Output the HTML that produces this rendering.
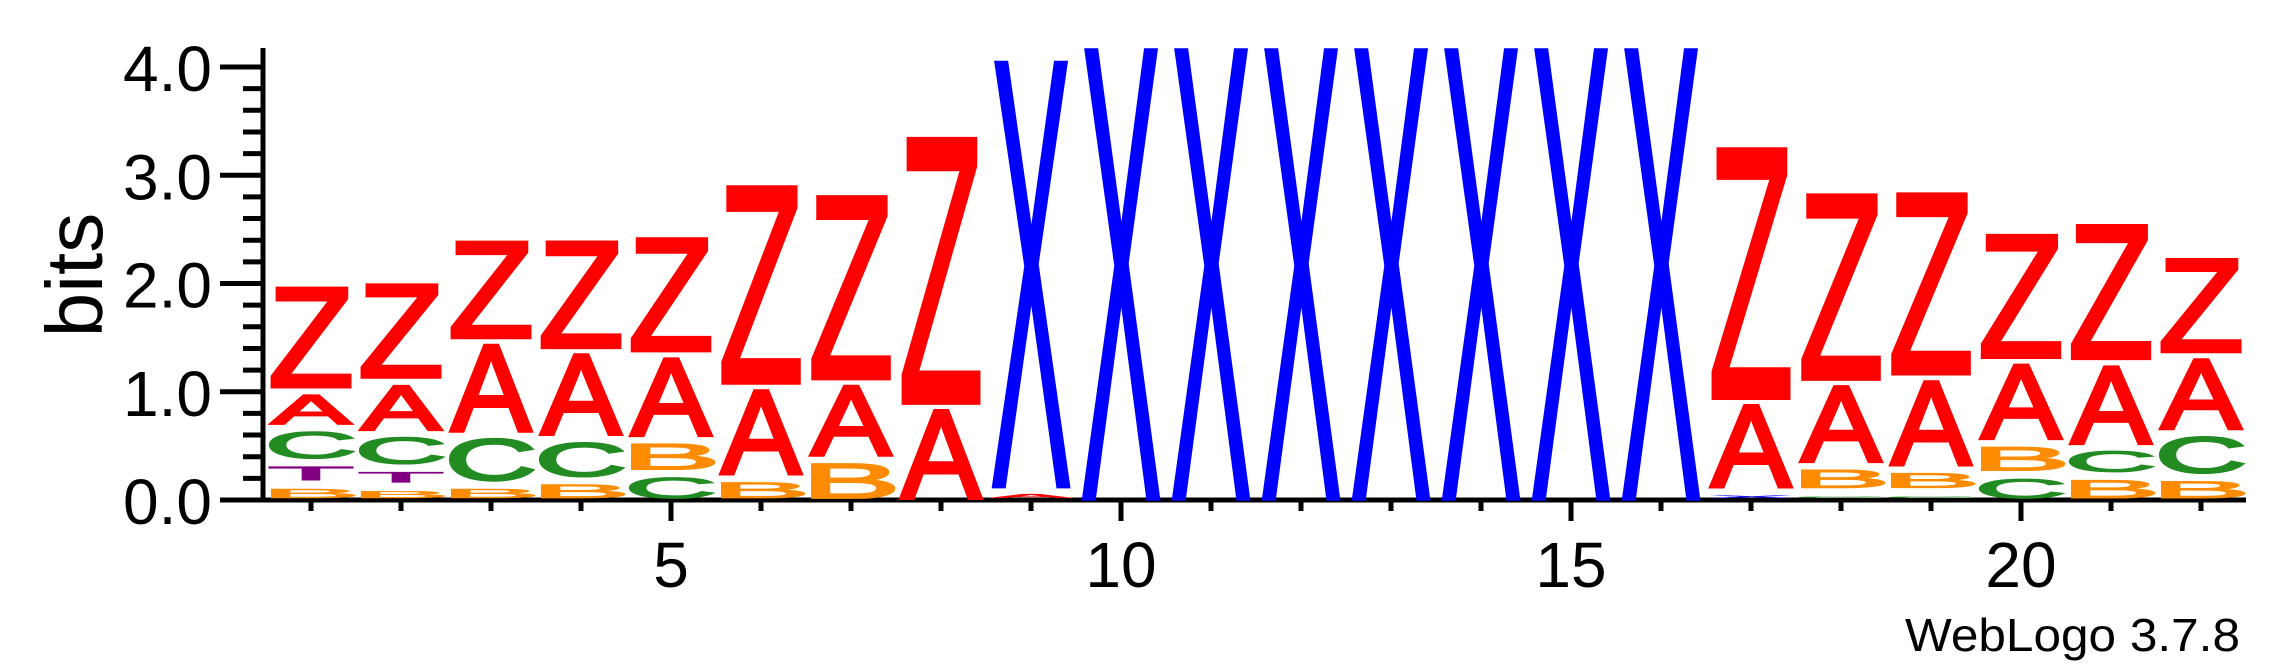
<!DOCTYPE html>
<html><head><meta charset="utf-8"><style>
html,body{margin:0;padding:0;background:#fff;}
svg{display:block;}
text{font-family:"Liberation Sans",Arial,sans-serif;}
</style></head><body>
<svg id="logo" width="2292" height="667" viewBox="0 0 2292 667" xmlns="http://www.w3.org/2000/svg">
<g id="axes"></g>
<g id="stacks"></g>
<text x="0" y="0" font-size="80" text-anchor="middle" transform="translate(102,275) rotate(-90)">bits</text>
<text x="2240" y="651" font-size="46" text-anchor="end" textLength="335" lengthAdjust="spacingAndGlyphs">WebLogo 3.7.8</text>
</svg>
<script>
// Data: each column's letters bottom-to-top, heights in bits
const positions = [1,2,3,4,5,6,7,8,9,10,11,12,13,14,15,16,17,18,19,20,21,22];
const stackLetters = [
  ['B','T','C','A','Z'],
  ['B','T','C','A','Z'],
  ['B','C','A','Z'],
  ['B','C','A','Z'],
  ['C','B','A','Z'],
  ['B','A','Z'],
  ['B','A','Z'],
  ['A','Z'],
  ['A','X'],
  ['X'],['X'],['X'],['X'],['X'],['X'],['X'],
  ['X','A','Z'],
  ['C','B','A','Z'],
  ['C','B','A','Z'],
  ['C','B','A','Z'],
  ['B','C','A','Z'],
  ['B','C','A','Z']
];
const stackHeights = [
  [0.12,0.16,0.27,0.30,0.94],
  [0.10,0.13,0.27,0.44,0.88],
  [0.12,0.41,0.82,0.91],
  [0.16,0.34,0.76,1.00],
  [0.22,0.27,0.74,1.06],
  [0.18,0.80,1.83],
  [0.35,0.67,1.70],
  [0.84,2.46],
  [0.07,3.93],
  [4.16],[4.16],[4.16],[4.16],[4.16],[4.16],[4.16],
  [0.06,0.78,2.32],
  [0.05,0.20,0.72,1.72],
  [0.05,0.17,0.80,1.68],
  [0.21,0.25,0.71,1.15],
  [0.20,0.22,0.74,1.25],
  [0.19,0.36,0.67,0.88]
];
const yTickLabels = ['0.0','1.0','2.0','3.0','4.0'];
const yTickValues = [0,1,2,3,4];
const xTickLabels = ['5','10','15','20'];
const xTickValues = [5,10,15,20];

const NS='http://www.w3.org/2000/svg';
const Y0=500, PXBIT=108.25, X1=311, DX=90, LW=80, GAP=0.045, CAP=68.7, SW=4;
const yS=v=>Y0-v*PXBIT;
const xS=p=>X1+(p-1)*DX;
const colors={A:'#ff0000',B:'#ff8c00',C:'#228b22',T:'#800080',X:'#0000ff',Z:'#ff0000'};
const inkW={A:0.667,B:0.54,C:0.63,T:0.57,X:0.65,Z:0.57};
const axes=document.getElementById('axes');
function mk(tag,attrs,parent){const e=document.createElementNS(NS,tag);for(const k in attrs)e.setAttribute(k,attrs[k]);parent.appendChild(e);return e;}

let l=mk('line',{x1:263,y1:48,x2:263,y2:502,stroke:'#000','stroke-width':5},axes);


l=mk('line',{x1:261,y1:500,x2:xS(22.5),y2:500,stroke:'#000','stroke-width':5},axes);


for(let k=0;k<=20;k++){
  const v=k*0.2;
  const major=(k%5===0);
  const t=mk('line',{x1:major?220:243,y1:yS(v),x2:263,y2:yS(v),stroke:'#000','stroke-width':5},axes);
  
  
}
yTickValues.forEach((v,i)=>{
  const t=mk('text',{x:212,y:yS(v)+24,'font-size':64,'text-anchor':'end'},axes);
  t.textContent=yTickLabels[i];
  
  
});
positions.forEach(p=>{
  const major=xTickValues.includes(p);
  const t=mk('line',{x1:xS(p),y1:500,x2:xS(p),y2:major?521:511,stroke:'#000','stroke-width':5},axes);
  
  
});
xTickValues.forEach((v,i)=>{
  const t=mk('text',{x:xS(v),y:587,'font-size':64,'text-anchor':'middle'},axes);
  t.textContent=xTickLabels[i];
  
  
});
const stacks=document.getElementById('stacks');
positions.forEach((p,ci)=>{
  const g=mk('g',{},stacks);
  
  
  let base=0;
  stackLetters[ci].forEach((ch,li)=>{
    const h=stackHeights[ci][li];
    const hpx=Math.max(h*PXBIT-SW,0.5);
    const sx=LW/(inkW[ch]*100), sy=hpx/CAP;
    const tg=mk('g',{transform:`translate(${xS(p)},${yS(base)-SW/2}) scale(${sx},${sy})`},g);
    const t=mk('text',{x:0,y:0,'font-size':100,'text-anchor':'middle',fill:colors[ch],stroke:colors[ch],'stroke-width':SW,'vector-effect':'non-scaling-stroke','stroke-linejoin':'miter'},tg);
    t.textContent=ch;
    
    
    base+=h+GAP;
  });
});
</script>
</body></html>
